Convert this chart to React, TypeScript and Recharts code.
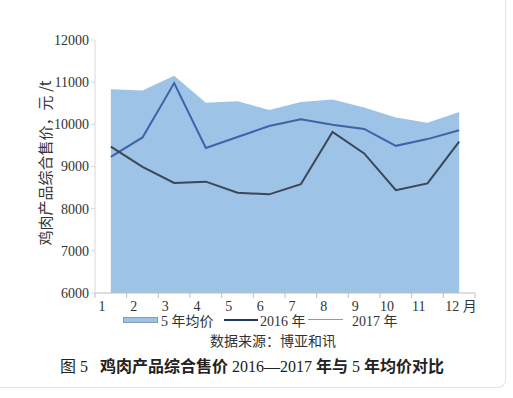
import { ComposedChart, Area, Line, XAxis, YAxis } from 'recharts'

const months = [1, 2, 3, 4, 5, 6, 7, 8, 9, 10, 11, 12]
const avg5y = [10830, 10800, 11150, 10510, 10550, 10340, 10530, 10590, 10400, 10160, 10040, 10290]
const y2016 = [9230, 9690, 10980, 9440, 9700, 9960, 10120, 9990, 9890, 9490, 9650, 9860]
const y2017 = [9470, 8990, 8610, 8640, 8380, 8340, 8580, 9820, 9310, 8440, 8600, 9590]
const yTicks = [6000, 7000, 8000, 9000, 10000, 11000, 12000]
const xBounds = [0.5, 1.5, 2.5, 3.5, 4.5, 5.5, 6.5, 7.5, 8.5, 9.5, 10.5, 11.5, 12.5]

const AREA = '#9dc3e6'
const C2016 = '#3f63a8'
const C2017 = '#3b4656'
const SERIF = '"Liberation Serif", "Noto Sans CJK SC", serif'
const CJK = '"Noto Sans CJK SC", "Liberation Serif", sans-serif'

const data = months.map((m, i) => ({
  m,
  avg: avg5y[i],
  a2016: y2016[i],
  a2017: y2017[i],
}))

// ticks sit on the category boundaries, labels a bit right of them
function MonthTick(props: any) {
  const { x, y, payload } = props
  const v = payload.value
  const label = v + 0.5
  return (
    <g>
      <line x1={x} y1={y - 8} x2={x} y2={y - 3} stroke="#bfbfbf" />
      {label <= 11 && (
        <text x={x + 7} y={y + 10} textAnchor="middle" fontSize={14} fontFamily={SERIF} fill="#333">
          {label}
        </text>
      )}
      {label === 12 && (
        <text x={x + 2} y={y + 10} textAnchor="start" fontSize={14} fontFamily={SERIF} fill="#333">
          12 月
        </text>
      )}
    </g>
  )
}

export default function App() {
  return (
    <div style={{ position: 'absolute', left: 0, top: 0, width: 513, height: 398, background: '#fff', overflow: 'hidden' }}>
      <div
        style={{
          position: 'absolute', left: -10, top: -10, width: 515, height: 397,
          borderRight: '1px solid #e4e4e4', borderBottom: '1px solid #e4e4e4', borderBottomRightRadius: 8,
        }}
      />
      <div style={{ position: 'absolute', left: 0, top: 0 }}>
        <ComposedChart width={513} height={320} data={data} margin={{ top: 40, right: 38, bottom: 5, left: 0 }}>
          <XAxis
            dataKey="m"
            type="number"
            domain={[0.5, 12.5]}
            ticks={xBounds}
            tick={<MonthTick />}
            tickLine={false}
            height={22}
            stroke="#bfbfbf"
            interval={0}
          />
          <YAxis
            domain={[6000, 12000]}
            ticks={yTicks}
            width={95}
            stroke="#d9d9d9"
            tickSize={4}
            tick={{ fontSize: 14, fontFamily: SERIF, fill: '#333' }}
            interval={0}
          />
          <Area dataKey="avg" type="linear" fill={AREA} fillOpacity={1} stroke="none" isAnimationActive={false} />
          <Line dataKey="a2016" type="linear" stroke={C2016} strokeWidth={2} dot={false} isAnimationActive={false} />
          <Line dataKey="a2017" type="linear" stroke={C2017} strokeWidth={2} dot={false} isAnimationActive={false} />
        </ComposedChart>
      </div>
      <div
        style={{
          position: 'absolute', left: 44, top: 163, transform: 'translate(-50%, -50%) rotate(-90deg)',
          whiteSpace: 'nowrap', fontSize: 15, fontFamily: CJK, color: '#333',
        }}
      >
        鸡肉产品综合售价，元 /t
      </div>
      <div style={{ position: 'absolute', left: 0, top: 310, width: 513, height: 18, fontSize: 14, fontFamily: SERIF, color: '#333' }}>
        <div style={{ position: 'absolute', left: 123, top: 7, width: 33, height: 4, background: AREA, border: '1px solid #8a9bb0' }} />
        <span style={{ position: 'absolute', left: 161, top: 0 }}>5 年均价</span>
        <div style={{ position: 'absolute', left: 224, top: 9, width: 34, height: 2, background: '#1f3864' }} />
        <span style={{ position: 'absolute', left: 260, top: 0 }}>2016 年</span>
        <div style={{ position: 'absolute', left: 308, top: 9, width: 35, height: 1, background: '#999' }} />
        <span style={{ position: 'absolute', left: 352, top: 0 }}>2017 年</span>
      </div>
      <div style={{ position: 'absolute', left: 0, width: 546, top: 330, textAlign: 'center', fontSize: 14, fontFamily: CJK, color: '#333' }}>
        数据来源：博亚和讯
      </div>
      <div style={{ position: 'absolute', left: 60, top: 353, whiteSpace: 'nowrap', fontSize: 16, fontFamily: SERIF, color: '#222' }}>
        <span style={{ fontFamily: CJK }}>图</span> 5&nbsp;&nbsp;&nbsp;
        <span style={{ fontFamily: CJK, fontWeight: 'bold' }}>鸡肉产品综合售价</span> 2016—2017{' '}
        <span style={{ fontFamily: CJK, fontWeight: 'bold' }}>年与</span> 5{' '}
        <span style={{ fontFamily: CJK, fontWeight: 'bold' }}>年均价对比</span>
      </div>
    </div>
  )
}
